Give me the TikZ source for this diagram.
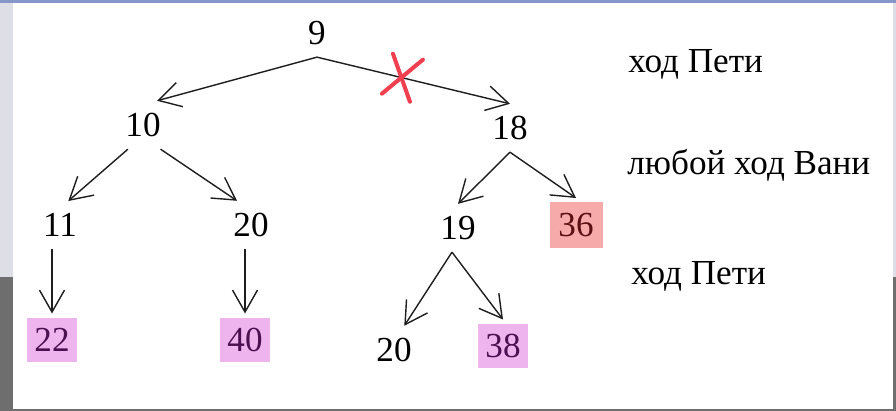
\documentclass[tikz,border=0pt]{standalone}
\usepackage{fontspec}
\setmainfont{Liberation Serif}
\usepackage{tikz}
\usetikzlibrary{calc,arrows.meta}
\definecolor{ink}{HTML}{1E1E1E}
\definecolor{panel}{HTML}{FFFFFF}
\definecolor{frame}{HTML}{DEDFE6}
\definecolor{stone}{HTML}{6E6E6E}
\definecolor{bar}{HTML}{8497C8}
\definecolor{pinkbox}{HTML}{EEB4EE}
\definecolor{pinktext}{HTML}{4A1050}
\definecolor{redbox}{HTML}{F6AAAA}
\definecolor{redtext}{HTML}{5C0F12}
\definecolor{cross}{HTML}{F0404F}
\tikzset{
  num/.style={inner sep=0.24cm, text=black, font=\fontsize{20}{24}\selectfont},
  win/.style={num, fill=pinkbox, text=pinktext, inner sep=0pt, minimum width=1.0cm, minimum height=0.9cm, outer sep=0.08cm},
  lose/.style={win, fill=redbox, text=redtext, minimum width=1.06cm, minimum height=0.92cm},
  move/.style={draw=ink, line width=0.8pt, -{Straight Barb[length=0.44cm, width=0.5cm]}},
  strike/.style={draw=cross, line width=2.3pt, line cap=round},
  lab/.style={text=black, font=\fontsize{20}{24}\selectfont, inner sep=0pt, anchor=base west},
}

\begin{document}
\begin{tikzpicture}[x=0.02cm, y=-0.02cm]
  \useasboundingbox (0,0) rectangle (896,411);
  \fill[stone] (0,0) rectangle (896,411);
  \fill[frame] (0,0) rectangle (896,277);
  \fill[bar] (0,0) rectangle (896,3);
  \fill[panel] (13,3) rectangle (893,409);

  \node[num] (n9) at (317,33) {9};
  \node[num] (n10) at (143,125) {10};
  \node[num] (n18) at (510,128) {18};
  \node[num] (n11) at (60,225) {11};
  \node[num] (n20a) at (251,225) {20};
  \node[num] (n19) at (458,228) {19};
  \node[lose] (n36) at (576,225) {36};
  \node[win] (n22) at (52,340) {22};
  \node[win] (n40) at (245,340) {40};
  \node[num] (n20b) at (394,350) {20};
  \node[win] (n38) at (503,346) {38};

  \draw[move] (n9.south) -- (n10.60);
  \draw[move] (n9.south) -- (n18.north);
  \draw[move] (n10.238) -- (n11.71);
  \draw[move] (n10.306) -- (n20a.120);
  \draw[move] (n18.south) -- (n19.north);
  \draw[move] (n18.south) -- (n36.north);
  \draw[move] (n11.south -| n22.north) -- (n22.north);
  \draw[move] (n20a.south -| n40.north) -- (n40.north);
  \draw[move] (n19.256) -- (n20b.67);
  \draw[move] (n19.256) -- (n38.north);

  \coordinate (X) at ($(n9.south)!0.44!(n18.north)$);
  \draw[strike] ([shift={(-9,-24)}]X) -- ([shift={(8,24)}]X);
  \draw[strike] ([shift={(21,-18)}]X) -- ([shift={(-20,16)}]X);

  \node[lab] (p1) at (628,73) {ход Пети};
  \node[lab] (v1) at (627,175) {любой ход Вани};
  \node[lab] (p2) at (631,285) {ход Пети};
\end{tikzpicture}
\end{document}
